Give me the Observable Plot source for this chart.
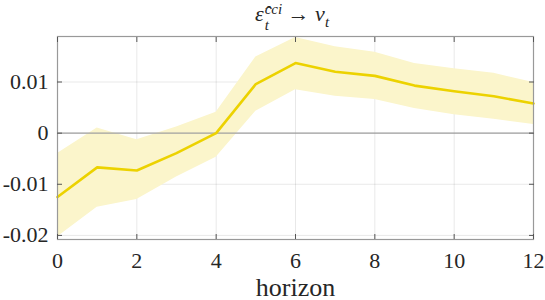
<!DOCTYPE html>
<html>
<head>
<meta charset="utf-8">
<script src="https://cdn.jsdelivr.net/npm/d3@7"></script>
<script src="https://cdn.jsdelivr.net/npm/@observablehq/plot@0.6"></script>
<style>
  html, body { margin: 0; padding: 0; background: #fff; }
  #wrap { position: relative; width: 545px; height: 300px; overflow: hidden; color: #262626; font-family: "Liberation Serif", "Times New Roman", serif; }
  #title { position: absolute; top: 0; left: 292px; transform: translateX(-50%); height: 30px; white-space: nowrap; font-size: 22px; line-height: 26px; }
  #title .m { font-style: italic; }
  #title .ss { display: inline-block; vertical-align: middle; line-height: 16px; font-size: 15px; font-style: italic; margin-left: 1px; position: relative; top: 1px; }
  #title .ss span { display: block; }
  #title .sub { font-size: 15px; font-style: italic; position: relative; top: 6px; }
  #chart { position: absolute; top: 30px; left: 0; }
</style>
</head>
<body>
<div id="wrap">
  <div id="title"><span class="m">ε̂</span><span class="ss"><span>cci</span><span>t</span></span>&nbsp;→&nbsp;<span class="m">v</span><span class="sub">t</span></div>
  <div id="chart"></div>
</div>
<script>
const horizon = [0, 1, 2, 3, 4, 5, 6, 7, 8, 9, 10, 11, 12];
const irf   = [-0.0125, -0.0067, -0.0073, -0.0039, 0.0000, 0.0096, 0.0137, 0.0120, 0.0112, 0.0093, 0.0082, 0.0072, 0.0058];
const upper = [-0.0040, 0.0010, -0.0013, 0.0012, 0.0041, 0.0149, 0.0187, 0.0169, 0.0158, 0.0136, 0.0126, 0.0117, 0.0099];
const lower = [-0.0203, -0.0145, -0.0130, -0.0086, -0.0047, 0.0043, 0.0085, 0.0072, 0.0066, 0.0048, 0.0036, 0.0027, 0.0017];

const xTicks = [0, 2, 4, 6, 8, 10, 12];
const yTicks = [-0.02, -0.01, 0, 0.01];
const yTickLabels = ["-0.02", "-0.01", "0", "0.01"];
const xLabel = "horizon";

const data = horizon.map((h, i) => ({h, irf: irf[i], lo: lower[i], hi: upper[i]}));

const lineColor = "#ecd200";
const bandColor = "#fbf5cb";
const textColor = "#262626";

const chart = Plot.plot({
  width: 545,
  height: 270,
  marginLeft: 57,
  marginRight: 12,
  marginTop: 6,
  marginBottom: 61,
  style: { fontFamily: "Liberation Serif", color: textColor, background: "#fff" },
  x: { domain: [0, 12] },
  y: { domain: [-0.0208, 0.0189] },
  marks: [
    Plot.gridX(xTicks, { stroke: "#000", strokeOpacity: 0.09 }),
    Plot.gridY(yTicks, { stroke: "#000", strokeOpacity: 0.09 }),
    Plot.areaY(data, { x: "h", y1: "lo", y2: "hi", fill: bandColor, fillOpacity: 1 }),
    Plot.ruleY([0], { stroke: "#a0a0a0", strokeWidth: 1.2 }),
    Plot.lineY(data, { x: "h", y: "irf", stroke: lineColor, strokeWidth: 2.6 }),
    Plot.frame({ stroke: "#999", strokeWidth: 1.2 }),
    Plot.axisX(xTicks, { anchor: "bottom", tickSize: -5, fill: "none", stroke: "#555", label: null }),
    Plot.axisX(xTicks, { anchor: "top", tickSize: -5, fill: "none", stroke: "#555", label: null }),
    Plot.axisY(yTicks, { anchor: "left", tickSize: -5, fill: "none", stroke: "#555", label: null }),
    Plot.axisY(yTicks, { anchor: "right", tickSize: -5, fill: "none", stroke: "#555", label: null }),
    Plot.axisX(xTicks, { anchor: "bottom", tickSize: 0, tickPadding: 13, fontSize: 22, fill: textColor,
      label: xLabel, labelAnchor: "center", labelArrow: "none", labelOffset: 56 }),
    Plot.axisY(yTicks, { anchor: "left", tickSize: 0, tickPadding: 9, fontSize: 22, fill: textColor,
      tickFormat: d => yTickLabels[yTicks.indexOf(d)], label: null })
  ]
});
document.getElementById("chart").appendChild(chart);
d3.select(chart).selectAll("[aria-label='x-axis label'] text").attr("font-size", 26);
</script>
</body>
</html>
